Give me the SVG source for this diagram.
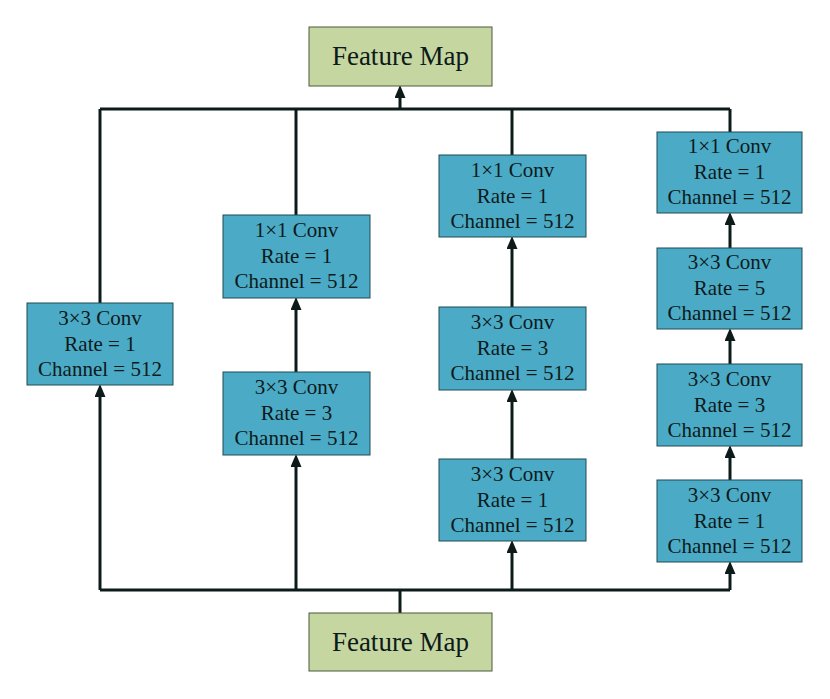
<svg xmlns="http://www.w3.org/2000/svg" width="830" height="699" viewBox="0 0 830 699">
<style>
.fm{fill:#c5d6a0;stroke:#4a5a40;stroke-width:1}
.cv{fill:#4babc6;stroke:#1f4a55;stroke-width:1}
.t{font-family:"Liberation Serif",serif;fill:#0d1a1a;text-anchor:middle}
.fmt{font-size:27px}
.cvt{font-size:21px}
.c{stroke:#0d1a1a;stroke-width:3;fill:none}
.a{marker-end:url(#ah)}
</style>
<defs>
<marker id="ah" markerUnits="userSpaceOnUse" markerWidth="13" markerHeight="11" refX="6" refY="5.5" orient="auto" viewBox="0 0 13 11">
<path d="M0,0 L13,5.5 L0,11 z" fill="#0d1a1a"/>
</marker>
</defs>
<rect width="830" height="699" fill="#ffffff"/>
<g id="connectors">
<path class="c" d="M100,109 H730"/>
<path class="c" d="M100,590 H730"/>
<path class="c" d="M400,613 V590"/>
<path class="c a" d="M400,109 V92"/>
<path class="c" d="M100,303 V109"/>
<path class="c a" d="M100,590 V391"/>
<path class="c" d="M296,215 V109"/>
<path class="c a" d="M296,372 V304"/>
<path class="c a" d="M296,590 V461"/>
<path class="c" d="M512,155 V109"/>
<path class="c a" d="M512,307 V243"/>
<path class="c a" d="M512,459 V396"/>
<path class="c a" d="M512,590 V547"/>
<path class="c" d="M730,132 V109"/>
<path class="c a" d="M730,248 V219"/>
<path class="c a" d="M730,364 V335"/>
<path class="c a" d="M730,480 V452"/>
<path class="c a" d="M730,590 V568"/>
</g>
<g id="fm-top">
<rect class="fm" x="309" y="27" width="183" height="59"/>
<text class="t fmt" x="400.5" y="65">Feature Map</text>
</g>
<g id="fm-bottom">
<rect class="fm" x="309" y="613" width="183" height="58"/>
<text class="t fmt" x="400.5" y="651">Feature Map</text>
</g>
<g id="b1">
<rect class="cv" x="27" y="303" width="146" height="82"/>
<text class="t cvt" x="100" y="325">3×3 Conv</text>
<text class="t cvt" x="100" y="351">Rate = 1</text>
<text class="t cvt" x="100" y="376">Channel = 512</text>
</g>
<g id="b2a">
<rect class="cv" x="223" y="215" width="147" height="83"/>
<text class="t cvt" x="296.5" y="237">1×1 Conv</text>
<text class="t cvt" x="296.5" y="263">Rate = 1</text>
<text class="t cvt" x="296.5" y="288">Channel = 512</text>
</g>
<g id="b2b">
<rect class="cv" x="223" y="372" width="147" height="83"/>
<text class="t cvt" x="296.5" y="394">3×3 Conv</text>
<text class="t cvt" x="296.5" y="420">Rate = 3</text>
<text class="t cvt" x="296.5" y="445">Channel = 512</text>
</g>
<g id="b3a">
<rect class="cv" x="439" y="155" width="147" height="82"/>
<text class="t cvt" x="512.5" y="177">1×1 Conv</text>
<text class="t cvt" x="512.5" y="203">Rate = 1</text>
<text class="t cvt" x="512.5" y="228">Channel = 512</text>
</g>
<g id="b3b">
<rect class="cv" x="439" y="307" width="147" height="83"/>
<text class="t cvt" x="512.5" y="329">3×3 Conv</text>
<text class="t cvt" x="512.5" y="355">Rate = 3</text>
<text class="t cvt" x="512.5" y="380">Channel = 512</text>
</g>
<g id="b3c">
<rect class="cv" x="439" y="459" width="147" height="82"/>
<text class="t cvt" x="512.5" y="481">3×3 Conv</text>
<text class="t cvt" x="512.5" y="507">Rate = 1</text>
<text class="t cvt" x="512.5" y="532">Channel = 512</text>
</g>
<g id="b4a">
<rect class="cv" x="657" y="132" width="145" height="81"/>
<text class="t cvt" x="729.5" y="153">1×1 Conv</text>
<text class="t cvt" x="729.5" y="179">Rate = 1</text>
<text class="t cvt" x="729.5" y="204">Channel = 512</text>
</g>
<g id="b4b">
<rect class="cv" x="657" y="248" width="145" height="81"/>
<text class="t cvt" x="729.5" y="269">3×3 Conv</text>
<text class="t cvt" x="729.5" y="295">Rate = 5</text>
<text class="t cvt" x="729.5" y="320">Channel = 512</text>
</g>
<g id="b4c">
<rect class="cv" x="657" y="364" width="145" height="82"/>
<text class="t cvt" x="729.5" y="386">3×3 Conv</text>
<text class="t cvt" x="729.5" y="412">Rate = 3</text>
<text class="t cvt" x="729.5" y="437">Channel = 512</text>
</g>
<g id="b4d">
<rect class="cv" x="657" y="480" width="145" height="82"/>
<text class="t cvt" x="729.5" y="502">3×3 Conv</text>
<text class="t cvt" x="729.5" y="528">Rate = 1</text>
<text class="t cvt" x="729.5" y="553">Channel = 512</text>
</g>
</svg>
